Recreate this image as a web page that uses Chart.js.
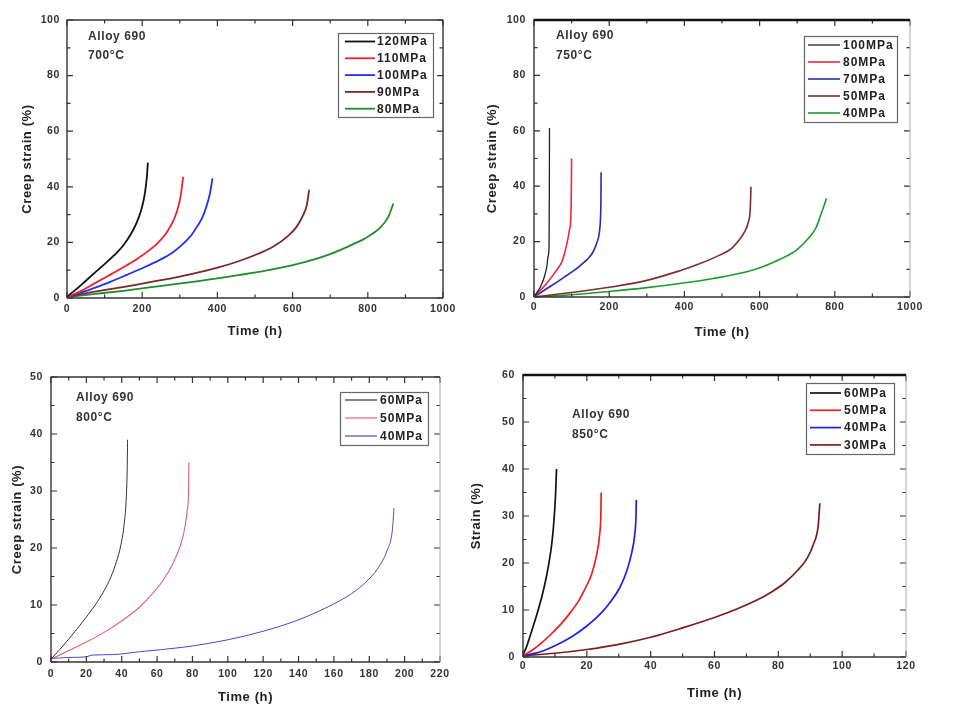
<!DOCTYPE html>
<html><head><meta charset="utf-8">
<script src="https://cdn.jsdelivr.net/npm/chart.js@4.4.0/dist/chart.umd.min.js"></script>
<style>
html,body{margin:0;padding:0;background:#fff;}
body{width:957px;height:710px;position:relative;overflow:hidden;}
canvas{position:absolute;display:block;}
</style></head><body>
<canvas id="c1" width="478" height="350" style="left:0;top:0;width:478px;height:350px"></canvas>
<canvas id="c2" width="479" height="350" style="left:478px;top:0;width:479px;height:350px"></canvas>
<canvas id="c3" width="470" height="355" style="left:0;top:355px;width:470px;height:355px"></canvas>
<canvas id="c4" width="489" height="355" style="left:468px;top:355px;width:489px;height:355px"></canvas>
<script>
// ---------- DATA ----------
// 700 °C
const labels700 = ['120MPa', '110MPa', '100MPa', '90MPa', '80MPa'];
const t700_120 = [0, 25, 50, 75, 100, 125, 150, 170, 185, 197, 205, 210, 213, 215];
const s700_120 = [0.5, 3.2, 6.2, 9.2, 12.2, 15.3, 19, 23, 27, 31.5, 36, 40.5, 44.5, 48.7];
const t700_110 = [0, 35, 70, 110, 159, 190, 221, 245, 265, 280, 292, 302, 309];
const s700_110 = [0.3, 2.4, 5, 8, 11.8, 14.4, 17.4, 20.3, 23.6, 27, 31, 36.5, 43.6];
const t700_100 = [0, 35, 70, 115, 159, 200, 247, 280, 305, 330, 345, 360, 371, 380, 387];
const s700_100 = [0.3, 1.8, 3.5, 5.8, 8.3, 10.7, 13.7, 16.3, 19, 22.5, 25.5, 29, 33, 37.5, 43];
const t700_90 = [0, 70, 160, 250, 336, 400, 460, 510, 550, 585, 610, 627, 638, 644];
const s700_90 = [0.5, 2.2, 4.2, 6.4, 8.8, 10.9, 13.4, 16, 18.6, 22, 25.5, 29.5, 33.5, 39];
const t700_80 = [0, 70, 150, 247, 350, 460, 550, 637, 700, 760, 797, 832, 855, 868];
const s700_80 = [0.3, 1.4, 2.6, 4.3, 6.1, 8.3, 10.4, 13.1, 15.8, 19.3, 21.8, 25.2, 29.3, 34];
// 750 °C
const labels750 = ['100MPa', '80MPa', '70MPa', '50MPa', '40MPa'];
const t750_100 = [0, 10, 20, 28, 34, 38, 40, 40.5, 41, 41.2];
const s750_100 = [0, 2, 4.5, 7.5, 11, 15, 18, 30, 45, 61];
const t750_80 = [0, 17, 34, 60, 75, 87, 94, 98, 99, 99.5, 100];
const s750_80 = [0, 2.5, 5, 9.7, 13, 19, 24, 29, 35, 42, 50];
const t750_70 = [0, 20, 43, 70, 96, 120, 140, 155, 167, 174, 177, 178, 178.5];
const s750_70 = [0, 1.8, 3.8, 6.2, 8.6, 11, 13.4, 15.8, 19.5, 23.5, 29, 35, 45];
const t750_50 = [0, 100, 200, 300, 388, 433, 495, 525, 545, 560, 570, 575, 576, 577];
const s750_50 = [0, 1.6, 3.5, 6, 9.5, 11.6, 15.2, 17.5, 20.5, 23.5, 27, 31.4, 35, 39.8];
const t750_40 = [0, 100, 200, 300, 388, 477, 566, 610, 654, 699, 734, 750, 761, 770, 778];
const s750_40 = [0, 0.8, 2, 3.4, 4.9, 6.7, 9.1, 11, 13.6, 17, 21.8, 25, 29, 32.5, 35.6];
// 800 °C
const labels800 = ['60MPa', '50MPa', '40MPa'];
const t800_60 = [0, 5, 10, 15, 20, 25, 30, 34, 37, 39.5, 41.5, 42.6, 43.1, 43.3];
const s800_60 = [0.5, 2.2, 4, 5.9, 7.9, 10, 12.5, 15, 17.6, 20.5, 24.5, 29, 34, 39];
const t800_50 = [0, 10, 20, 30, 40, 50, 58, 64, 69, 73, 75.5, 77, 77.8, 78];
const s800_50 = [0.5, 2, 3.5, 5.2, 7.2, 9.6, 12.2, 14.6, 17.3, 20.3, 23.2, 26.5, 30, 35];
const t800_40 = [0, 10, 20, 23, 35, 50, 75, 100, 120, 140, 160, 170, 178, 185, 190, 193, 194];
const s800_40 = [0.6, 0.8, 0.9, 1.2, 1.3, 1.8, 2.6, 3.9, 5.4, 7.4, 10.2, 12, 14, 16.5, 19.5, 23, 27];
// 850 °C
const labels850 = ['60MPa', '50MPa', '40MPa', '30MPa'];
const t850_60 = [0, 1, 2, 3, 4, 5, 6, 7, 8, 9, 9.7, 10.2, 10.5];
const s850_60 = [0.5, 2, 4, 6.1, 8.3, 10.6, 13.1, 16, 19.5, 24, 29, 34.5, 40];
const t850_50 = [0, 3, 6, 9, 12, 15, 17.5, 19.5, 21.5, 23, 24, 24.4, 24.5];
const s850_50 = [0.3, 1.5, 3.1, 5, 7.1, 9.6, 12, 14.6, 17.6, 21.5, 26, 30.5, 35];
const t850_40 = [0, 5, 10, 15, 20, 24, 27.5, 30.5, 32.5, 34, 35, 35.4, 35.5];
const s850_40 = [0.3, 1, 2.4, 4.2, 6.6, 9, 11.8, 15, 18.3, 22, 26, 30, 33.4];
const t850_30 = [0, 10, 20, 30, 40, 50, 60, 67, 73, 78, 82, 86, 89, 91, 92.5, 93];
const s850_30 = [0.3, 0.8, 1.6, 2.7, 4.2, 6.2, 8.4, 10.2, 12, 13.9, 15.8, 18.4, 21, 24, 28, 32.7];

// axis ranges / ticks  [min, max, step]
const xAxis700 = [0, 1000, 200]; const yAxis700 = [0, 100, 20];
const xAxis750 = [0, 1000, 200]; const yAxis750 = [0, 100, 20];
const xAxis800 = [0, 220, 20];  const yAxis800 = [0, 50, 10];
const xAxis850 = [0, 120, 20];  const yAxis850 = [0, 60, 10];

// ---------- PLUGINS ----------
const spacingPlugin = {
  id: 'spacing',
  beforeLayout(chart) { chart.ctx.letterSpacing = '0.6px'; },
  beforeDraw(chart) { chart.ctx.letterSpacing = '0.6px'; }
};

const framePlugin = {
  id: 'frameTicks',
  afterDraw(chart, args, o) {
    const ctx = chart.ctx, a = chart.chartArea, xs = chart.scales.x, ys = chart.scales.y;
    ctx.save();
    ctx.letterSpacing = '0px';
    ctx.strokeStyle = '#333'; ctx.lineWidth = 1.2;
    const maj = 6, mnr = 3.5;
    const xt = xs.ticks.map(t => t.value), yt = ys.ticks.map(t => t.value);
    const drawX = (v, len) => {
      const p = xs.getPixelForValue(v);
      ctx.beginPath(); ctx.moveTo(p, a.bottom); ctx.lineTo(p, a.bottom - len);
      ctx.moveTo(p, a.top); ctx.lineTo(p, a.top + len); ctx.stroke();
    };
    const drawY = (v, len) => {
      const p = ys.getPixelForValue(v);
      ctx.beginPath(); ctx.moveTo(a.left, p); ctx.lineTo(a.left + len, p);
      ctx.moveTo(a.right, p); ctx.lineTo(a.right - len, p); ctx.stroke();
    };
    xt.forEach((v, i) => { drawX(v, maj); if (i < xt.length - 1) drawX((v + xt[i + 1]) / 2, mnr); });
    yt.forEach((v, i) => { drawY(v, maj); if (i < yt.length - 1) drawY((v + yt[i + 1]) / 2, mnr); });
    const edge = (c, w, x1, y1, x2, y2) => { ctx.strokeStyle = c; ctx.lineWidth = w; ctx.beginPath(); ctx.moveTo(x1, y1); ctx.lineTo(x2, y2); ctx.stroke(); };
    edge(o.left[0], o.left[1], a.left, a.top, a.left, a.bottom);
    edge(o.bottom[0], o.bottom[1], a.left, a.bottom, a.right, a.bottom);
    edge(o.right[0], o.right[1], a.right, a.top, a.right, a.bottom);
    edge(o.top[0], o.top[1], a.left - 0.5, a.top, a.right, a.top);
    ctx.restore();
  }
};

const legendPlugin = {
  id: 'boxLegend',
  afterDraw(chart, args, o) {
    const ctx = chart.ctx, b = o.box;
    ctx.save();
    ctx.letterSpacing = '1px';
    ctx.fillStyle = '#fff'; ctx.fillRect(b[0], b[1], b[2] - b[0], b[3] - b[1]);
    ctx.strokeStyle = '#666'; ctx.lineWidth = 1.2; ctx.strokeRect(b[0] + 0.5, b[1] + 0.5, b[2] - b[0], b[3] - b[1]);
    ctx.font = 'bold 12px "Liberation Sans", Arial, sans-serif';
    ctx.textBaseline = 'middle'; ctx.textAlign = 'left';
    chart.data.datasets.forEach((ds, i) => {
      const y = b[1] + o.first + i * o.step;
      ctx.strokeStyle = ds.borderColor; ctx.lineWidth = Math.max(1.2, ds.borderWidth);
      ctx.beginPath(); ctx.moveTo(o.line[0], y); ctx.lineTo(o.line[1], y); ctx.stroke();
      ctx.fillStyle = '#222';
      ctx.fillText(ds.label, o.textX, y + 0.5);
    });
    ctx.restore();
  }
};

const notePlugin = {
  id: 'notes',
  afterDraw(chart, args, o) {
    const ctx = chart.ctx, a = chart.chartArea;
    ctx.save();
    ctx.letterSpacing = '0.6px';
    ctx.font = 'bold 12px "Liberation Sans", Arial, sans-serif';
    ctx.fillStyle = '#333'; ctx.textBaseline = 'middle'; ctx.textAlign = 'left';
    o.lines.forEach((t, i) => ctx.fillText(t, a.left + o.dx, a.top + o.dy + i * o.gap));
    ctx.restore();
  }
};

// ---------- BUILDER ----------
function series(label, t, s, color, width) {
  return { label, data: t.map((x, i) => ({ x, y: s[i] })), borderColor: color, borderWidth: width,
    pointRadius: 0, fill: false, cubicInterpolationMode: 'monotone' };
}

const tickFont = { family: '"Liberation Sans", Arial, sans-serif', size: 10.5, weight: 'bold' };
const titleFont = { family: '"Liberation Sans", Arial, sans-serif', size: 13, weight: 'bold' };
const plain = v => String(v);

function panel(id, datasets, xA, yA, yTitle, L) {
  new Chart(document.getElementById(id), {
    type: 'line',
    data: { datasets },
    plugins: [spacingPlugin, framePlugin, legendPlugin, notePlugin],
    options: {
      responsive: false, animation: false, devicePixelRatio: 1,
      layout: { autoPadding: false, padding: { top: L.top, right: L.right, left: 0, bottom: 0 } },
      plugins: {
        legend: { display: false }, tooltip: { enabled: false },
        frameTicks: L.frame, boxLegend: L.legend, notes: L.notes
      },
      scales: {
        x: {
          type: 'linear', min: xA[0], max: xA[1],
          afterFit: s => { s.height = L.axisH; },
          grid: { display: false, drawTicks: false }, border: { display: false },
          ticks: { stepSize: xA[2], color: '#333', font: tickFont, padding: L.xPad, maxRotation: 0, autoSkip: false, callback: plain },
          title: { display: true, text: 'Time (h)', color: '#222', font: titleFont, padding: { top: 0, bottom: L.xTitlePad } }
        },
        y: {
          type: 'linear', min: yA[0], max: yA[1],
          afterFit: s => { s.width = L.axisW; },
          grid: { display: false, drawTicks: false }, border: { display: false },
          ticks: { stepSize: yA[2], color: '#333', font: tickFont, padding: L.yPad, autoSkip: false, callback: plain },
          title: { display: true, text: yTitle, color: '#222', font: titleFont, padding: { top: L.yTitlePad, bottom: 0 } }
        }
      }
    }
  });
}

const dark = ['#333', 1.4], grey = ['#aaa', 1], thick = ['#111', 2.4];

panel('c1', [
  series(labels700[0], t700_120, s700_120, '#111111', 1.8),
  series(labels700[1], t700_110, s700_110, '#e8242c', 1.8),
  series(labels700[2], t700_100, s700_100, '#2230e6', 1.8),
  series(labels700[3], t700_90, s700_90, '#7c2626', 1.8),
  series(labels700[4], t700_80, s700_80, '#1e8c2a', 1.8)
], xAxis700, yAxis700, 'Creep strain (%)', {
  top: 20, right: 35, axisH: 52, axisW: 67, xPad: 5, yPad: 7, xTitlePad: 11, yTitlePad: 20,
  frame: { left: dark, bottom: dark, right: dark, top: dark },
  legend: { box: [338, 33, 433, 117], first: 8.5, step: 16.8, line: [345, 375], textX: 377 },
  notes: { lines: ['Alloy 690', '700°C'], dx: 21, dy: 17, gap: 19 }
});

panel('c2', [
  series(labels750[0], t750_100, s750_100, '#222222', 1.3),
  series(labels750[1], t750_80, s750_80, '#f0283c', 1.6),
  series(labels750[2], t750_70, s750_70, '#2a2ab0', 1.6),
  series(labels750[3], t750_50, s750_50, '#7a2e2e', 1.6),
  series(labels750[4], t750_40, s750_40, '#1e9a2a', 1.6)
], xAxis750, yAxis750, 'Creep strain (%)', {
  top: 20, right: 47, axisH: 53, axisW: 56, xPad: 4, yPad: 8, xTitlePad: 10, yTitlePad: 7,
  frame: { left: dark, bottom: dark, right: grey, top: thick },
  legend: { box: [326, 36, 419, 122], first: 9, step: 17, line: [330, 362], textX: 365 },
  notes: { lines: ['Alloy 690', '750°C'], dx: 22, dy: 16, gap: 20 }
});

panel('c3', [
  series(labels800[0], t800_60, s800_60, '#333333', 1),
  series(labels800[1], t800_50, s800_50, '#e0607a', 1.1),
  series(labels800[2], t800_40, s800_40, '#4848c8', 1)
], xAxis800, yAxis800, 'Creep strain (%)', {
  top: 22, right: 30, axisH: 48, axisW: 51, xPad: 6, yPad: 8, xTitlePad: 5, yTitlePad: 10,
  frame: { left: dark, bottom: dark, right: grey, top: dark },
  legend: { box: [340, 37, 428, 90], first: 8, step: 18, line: [345, 377], textX: 380 },
  notes: { lines: ['Alloy 690', '800°C'], dx: 25, dy: 21, gap: 20 }
});

panel('c4', [
  series(labels850[0], t850_60, s850_60, '#111111', 1.7),
  series(labels850[1], t850_50, s850_50, '#e82020', 1.7),
  series(labels850[2], t850_40, s850_40, '#2020e0', 1.7),
  series(labels850[3], t850_30, s850_30, '#7a1e1e', 1.7)
], xAxis850, yAxis850, 'Strain (%)', {
  top: 20, right: 51, axisH: 53, axisW: 55, xPad: 3, yPad: 8, xTitlePad: 9, yTitlePad: 1,
  frame: { left: dark, bottom: dark, right: grey, top: thick },
  legend: { box: [338, 28, 426, 99], first: 10, step: 17.3, line: [342, 373], textX: 376 },
  notes: { lines: ['Alloy 690', '850°C'], dx: 49, dy: 40, gap: 20 }
});
</script>
</body></html>
